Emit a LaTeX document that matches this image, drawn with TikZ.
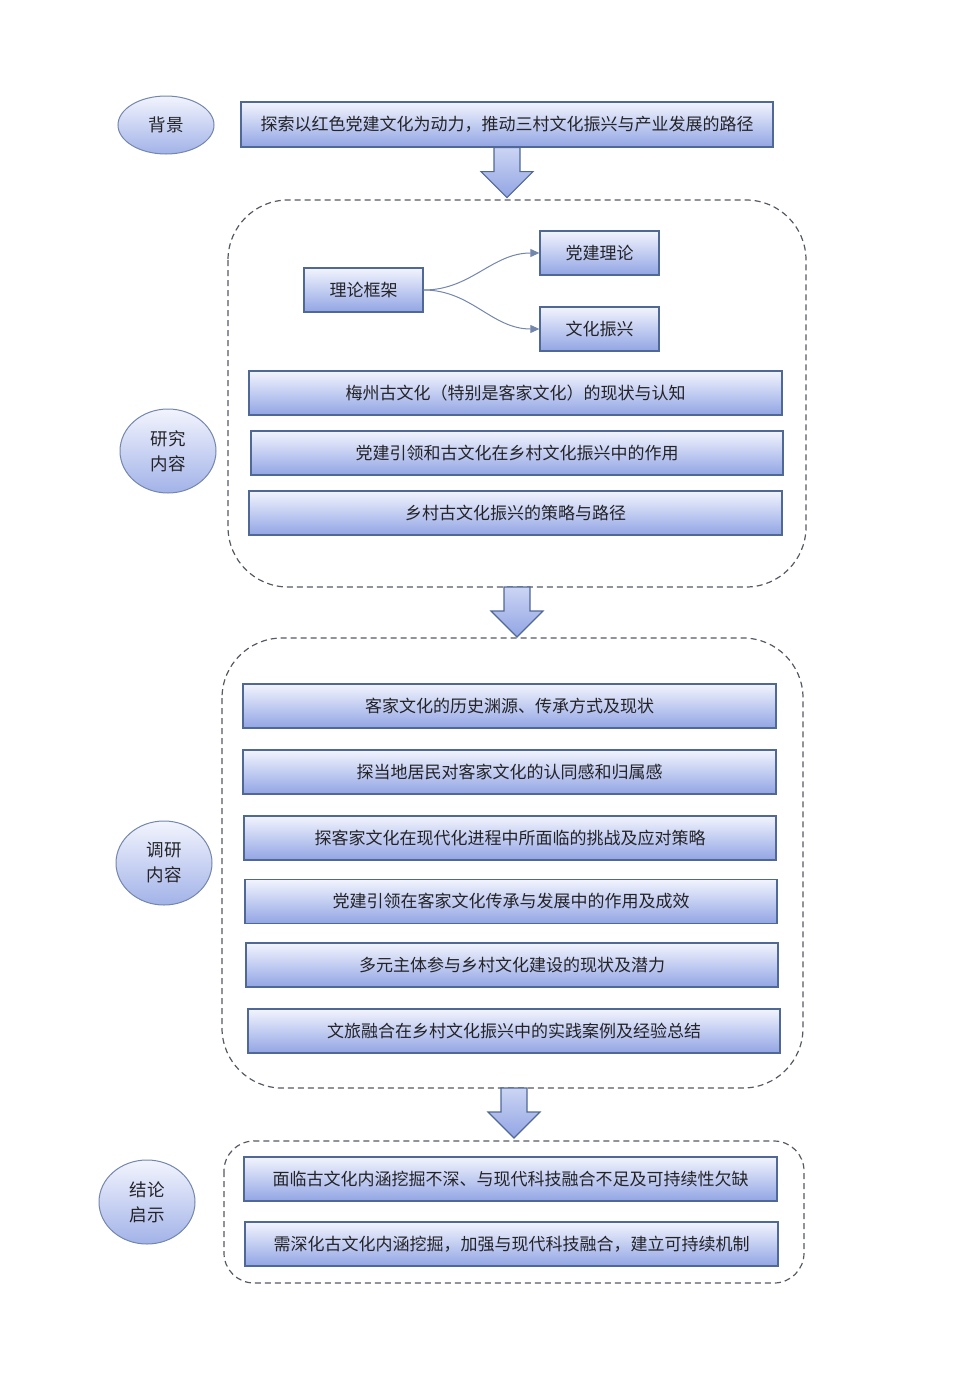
\documentclass[tikz,border=0pt]{standalone}
\usepackage{fontspec}
\newfontfamily\cjk{Noto Sans CJK SC}
\usetikzlibrary{calc,shapes.geometric,arrows.meta}

\definecolor{boxline}{RGB}{80,104,150}
\definecolor{boxtop}{RGB}{242,244,253}
\definecolor{boxbot}{RGB}{146,165,228}
\definecolor{txt}{RGB}{35,35,40}
\definecolor{dashline}{RGB}{85,90,100}

\tikzset{every picture/.style={line width=1pt}}
\tikzset{
  bluebox/.style={draw=boxline, line width=1.3pt, top color=boxtop, bottom color=boxbot,
    text=txt, font=\cjk\fontsize{17}{19}\selectfont, inner sep=0pt, minimum height=44},
  tagell/.style={ellipse, draw=boxline!80, line width=1pt, top color=boxtop, bottom color=boxbot!85,
    text=txt, font=\cjk\fontsize{17.5}{25}\selectfont, align=center, inner sep=0pt,
    minimum width=96},
  groupbox/.style={draw=dashline, dash pattern=on 6pt off 4pt, line width=1.2pt},
  blockarrow/.style={draw=boxline, line width=1.1pt, top color=boxtop!60!boxbot, bottom color=boxbot},
  curvearrow/.style={draw=boxline!80, line width=1pt, -{Triangle[length=9pt,width=8pt]}}
}

\begin{document}
\begin{tikzpicture}[x=1pt,y=1pt,yscale=-1,xscale=1]
\useasboundingbox (0,0) rectangle (970,1373);

% Background
\node[tagell, minimum height=58] (bg) at (166,125) {背景};
\node[bluebox, minimum width=532, minimum height=45] (top) at (507,124.5) {探索以红色党建文化为动力，推动三村文化振兴与产业发展的路径};

% Research content
\draw[groupbox, rounded corners=60] (228,200) rectangle (806,587);
\coordinate (grp1s) at (517,587);
\node[tagell, minimum height=84] (yj) at (168,451) {研究\\内容};
\node[bluebox, minimum width=119] (frame) at (363.5,290) {理论框架};
\node[bluebox, minimum width=119] (theory) at (599.5,253) {党建理论};
\node[bluebox, minimum width=119] (revival) at (599.5,329) {文化振兴};
\node[bluebox, minimum width=533] (r1) at (515.5,393) {梅州古文化（特别是客家文化）的现状与认知};
\node[bluebox, minimum width=532] (r2) at (517,453) {党建引领和古文化在乡村文化振兴中的作用};
\node[bluebox, minimum width=533] (r3) at (515.5,513) {乡村古文化振兴的策略与路径};

\draw[curvearrow] (frame.east) to[out=0,in=180] (theory.west);
\draw[curvearrow] (frame.east) to[out=0,in=180] (revival.west);

% Survey content
\draw[groupbox, rounded corners=60] (222,638) rectangle (803,1088);
\coordinate (grp2s) at (514,1088);
\node[tagell, minimum height=84] (dy) at (164,863) {调研\\内容};
\node[bluebox, minimum width=533] (s1) at (509.5,706) {客家文化的历史渊源、传承方式及现状};
\node[bluebox, minimum width=533] (s2) at (509.5,772) {探当地居民对客家文化的认同感和归属感};
\node[bluebox, minimum width=532] (s3) at (510,838) {探客家文化在现代化进程中所面临的挑战及应对策略};
\node[bluebox, minimum width=532] (s4) at (511,901.5) {党建引领在客家文化传承与发展中的作用及成效};
\node[bluebox, minimum width=532] (s5) at (512,965) {多元主体参与乡村文化建设的现状及潜力};
\node[bluebox, minimum width=532] (s6) at (514,1031) {文旅融合在乡村文化振兴中的实践案例及经验总结};

% Conclusion
\draw[groupbox, rounded corners=30] (224,1141) rectangle (804,1283);
\node[tagell, minimum height=84] (jl) at (147,1202) {结论\\启示};
\node[bluebox, minimum width=533] (c1) at (510.5,1179) {面临古文化内涵挖掘不深、与现代科技融合不足及可持续性欠缺};
\node[bluebox, minimum width=533] (c2) at (511.5,1244) {需深化古文化内涵挖掘，加强与现代科技融合，建立可持续机制};

% Block arrows
\draw[blockarrow] ($(top.south)+(-13,0)$) -- ++(0,24) -- ++(-13,0) -- ++(26,26) -- ++(26,-26) -- ++(-13,0) -- ++(0,-24) -- cycle;
\draw[blockarrow] ($(grp1s)+(-13,0)$) -- ++(0,24) -- ++(-13,0) -- ++(26,26) -- ++(26,-26) -- ++(-13,0) -- ++(0,-24) -- cycle;
\draw[blockarrow] ($(grp2s)+(-13,0)$) -- ++(0,24) -- ++(-13,0) -- ++(26,26) -- ++(26,-26) -- ++(-13,0) -- ++(0,-24) -- cycle;

\end{tikzpicture}
\end{document}
